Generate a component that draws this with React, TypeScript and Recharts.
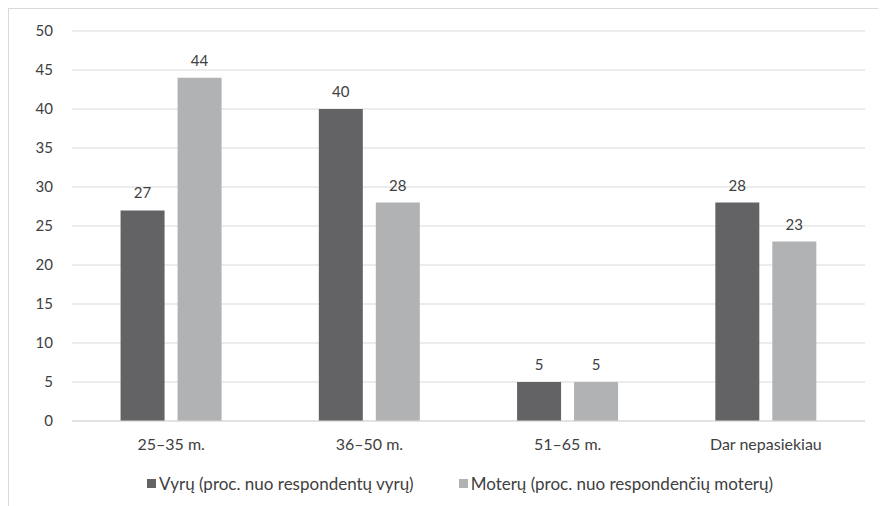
import { Bar, BarChart, CartesianGrid, LabelList, Legend, XAxis, YAxis } from 'recharts';

const categories = ['25–35 m.', '36–50 m.', '51–65 m.', 'Dar nepasiekiau'];
const menValues = [27, 40, 5, 28];
const womenValues = [44, 28, 5, 23];
const yTicks = [0, 5, 10, 15, 20, 25, 30, 35, 40, 45, 50];

const MEN_NAME = 'Vyrų (proc. nuo respondentų vyrų)';
const WOMEN_NAME = 'Moterų (proc. nuo respondenčių moterų)';
const MEN_COLOR = '#636365';
const WOMEN_COLOR = '#b1b2b4';

const data = categories.map((name, i) => ({
    name,
    men: menValues[i],
    women: womenValues[i],
}));

const FONT = 'Lato, sans-serif';
const TEXT = '#404040';

// legend drawn by hand so the spacing matches the Excel look
function ChartLegend() {
    const items = [
        { name: MEN_NAME, color: MEN_COLOR },
        { name: WOMEN_NAME, color: WOMEN_COLOR },
    ];
    return (
        <div style={{ display: 'flex', justifyContent: 'center', gap: 45, fontFamily: FONT, fontSize: 17, color: TEXT }}>
            {items.map((item) => (
                <div key={item.name} style={{ display: 'flex', alignItems: 'center', gap: 3 }}>
                    <span style={{ width: 9, height: 9, background: item.color, display: 'inline-block' }} />
                    <span>{item.name}</span>
                </div>
            ))}
        </div>
    );
}

export default function App() {
    return (
        <div
            style={{
                width: 878,
                height: 498,
                borderTop: '1px solid #d9d9d9',
                borderLeft: '1px solid #d9d9d9',
                boxSizing: 'border-box',
                fontFamily: FONT,
                overflow: 'hidden',
            }}
        >
            <BarChart
                width={877}
                height={497}
                data={data}
                margin={{ top: 22, right: 21, left: 0, bottom: 55 }}
                barCategoryGap="24.5%"
                barGap={13}
            >
                <CartesianGrid vertical={false} stroke="#d9d9d9" strokeWidth={1} />
                <XAxis
                    dataKey="name"
                    height={30}
                    axisLine={{ stroke: '#d9d9d9' }}
                    tickLine={false}
                    tick={{ fill: TEXT, fontSize: 16, fontFamily: FONT }}
                    tickMargin={12}
                />
                <YAxis
                    width={63}
                    domain={[0, 50]}
                    ticks={yTicks}
                    axisLine={false}
                    tickLine={false}
                    tick={{ fill: TEXT, fontSize: 15, fontFamily: FONT }}
                    tickMargin={13}
                />
                <Legend
                    verticalAlign="middle"
                    content={<ChartLegend />}
                    wrapperStyle={{ top: 464, left: 23, width: 856 }}
                />
                <Bar dataKey="men" name={MEN_NAME} fill={MEN_COLOR} isAnimationActive={false}>
                    <LabelList dataKey="men" position="top" offset={12} fill={TEXT} fontSize={15} fontFamily={FONT} />
                </Bar>
                <Bar dataKey="women" name={WOMEN_NAME} fill={WOMEN_COLOR} isAnimationActive={false}>
                    <LabelList dataKey="women" position="top" offset={12} fill={TEXT} fontSize={15} fontFamily={FONT} />
                </Bar>
            </BarChart>
        </div>
    );
}
